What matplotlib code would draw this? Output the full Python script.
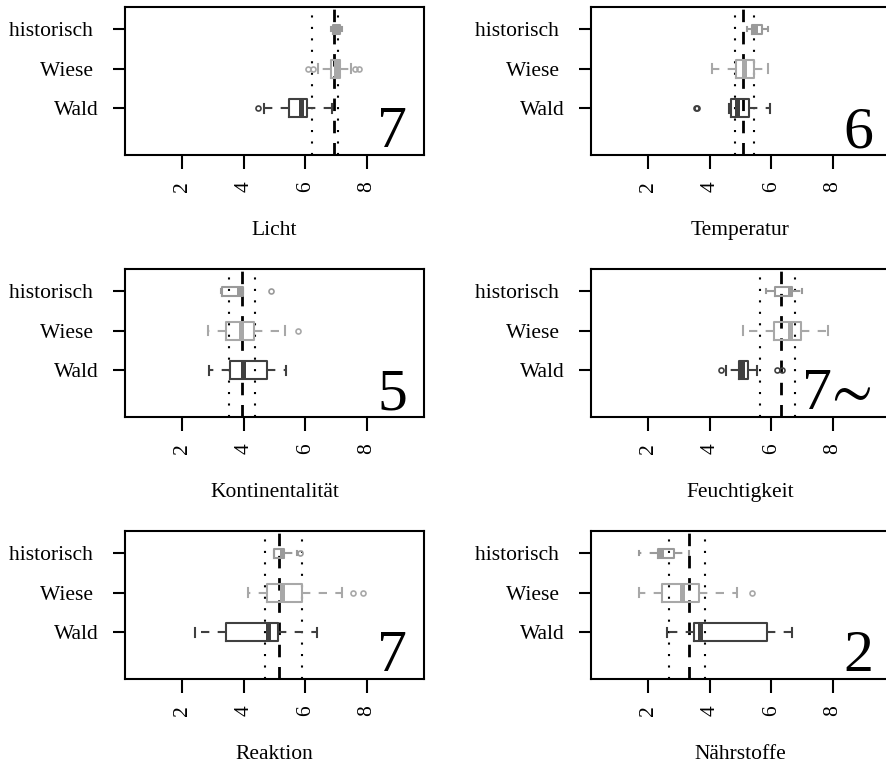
import matplotlib
matplotlib.use("Agg")
import matplotlib.pyplot as plt

plt.rcParams['font.family'] = ['Liberation Serif', 'STIXGeneral', 'DejaVu Serif']

# ---- data -----------------------------------------------------------------
panels = ["Licht", "Temperatur", "Kontinentalität", "Feuchtigkeit", "Reaktion", "Nährstoffe"]
indicator = ["7", "6", "5", "7∼", "7", "2"]
groups = ["Wald", "Wiese", "historisch"]
group_labels = ["Wald", "Wiese ", "historisch "]
xticks = [2, 4, 6, 8]

# [whisker low, Q1, median, Q3, whisker high]
wald_stats = [
    [4.65, 5.48, 5.85, 6.06, 6.86],
    [4.64, 4.69, 4.89, 5.29, 5.95],
    [2.87, 3.54, 3.98, 4.74, 5.36],
    [4.52, 4.96, 5.04, 5.24, 5.53],
    [2.40, 3.41, 4.80, 5.13, 6.39],
    [2.61, 3.49, 3.67, 5.86, 6.68],
]
wiese_stats = [
    [6.42, 6.83, 7.00, 7.13, 7.49],
    [4.06, 4.85, 5.10, 5.44, 5.88],
    [2.85, 3.41, 3.92, 4.32, 5.35],
    [5.09, 6.08, 6.60, 6.97, 7.83],
    [4.14, 4.77, 5.23, 5.90, 7.18],
    [1.69, 2.45, 3.11, 3.64, 4.88],
]
hist_stats = [
    [6.83, 6.91, 7.00, 7.13, 7.20],
    [5.20, 5.36, 5.48, 5.70, 5.91],
    [3.27, 3.30, 3.84, 3.96, 3.98],
    [5.83, 6.11, 6.62, 6.68, 7.01],
    [4.98, 4.99, 5.25, 5.30, 5.74],
    [1.69, 2.31, 2.42, 2.85, 3.31],
]
wald_fliers = [[4.47], [3.56, 3.60], [], [4.38, 6.19, 6.35], [], []]
wiese_fliers = [[6.10, 6.25, 7.62, 7.75], [], [5.77], [], [7.56, 7.87], [5.37]]
hist_fliers = [[], [], [4.87], [], [5.83], []]

# reference lines: dashed centre, dotted lower / upper
ref_mid = [6.93, 5.08, 3.94, 6.33, 5.15, 3.34]
ref_lo = [6.23, 4.82, 3.52, 5.64, 4.70, 2.66]
ref_hi = [7.07, 5.44, 4.36, 6.77, 5.88, 3.86]

# ---- style ----------------------------------------------------------------
group_colors = ["#404040", "#a8a8a8", "#9a9a9a"]
group_widths = [0.45, 0.45, 0.23]

W, H = 886, 766
fig = plt.figure(figsize=(W / 100, H / 100), dpi=100)

col_left = [125, 591]
ax_w = 299
row_top = [7, 269, 531]
ax_h = 148

all_stats = [wald_stats, wiese_stats, hist_stats]
all_fliers = [wald_fliers, wiese_fliers, hist_fliers]

for i, name in enumerate(panels):
    r, c = divmod(i, 2)
    left = col_left[c] / W
    bottom = (H - row_top[r] - ax_h) / H
    ax = fig.add_axes([left, bottom, ax_w / W, ax_h / H])

    # reference lines
    ax.axvline(ref_mid[i], color="black", lw=2.0, linestyle=(0, (4.5, 3.5)), zorder=1)
    ax.axvline(ref_lo[i], color="black", lw=1.5, linestyle=(0, (1, 4.5)), zorder=1)
    ax.axvline(ref_hi[i], color="black", lw=1.5, linestyle=(0, (1, 4.5)), zorder=1)

    for g in range(3):
        lo, q1, med, q3, hi = all_stats[g][i]
        st = dict(whislo=lo, q1=q1, med=med, q3=q3, whishi=hi,
                  fliers=all_fliers[g][i], label=groups[g])
        col = group_colors[g]
        ax.bxp([st], positions=[g + 1], widths=group_widths[g],
               capwidths=group_widths[g] * 0.5,
               orientation='horizontal', manage_ticks=False,
               boxprops=dict(color=col, lw=1.5),
               whiskerprops=dict(color=col, lw=1.5, linestyle=(0, (4, 4))),
               capprops=dict(color=col, lw=1.5),
               medianprops=dict(color=col, lw=3.6, solid_capstyle='butt'),
               flierprops=dict(marker='o', markerfacecolor='none',
                               markeredgecolor=col, markersize=3.6, mew=1.2),
               zorder=2)

    ax.set_xlim(0.14, 9.86)
    ax.set_ylim(-0.18, 3.56)
    ax.set_xticks(xticks)
    ax.set_xticklabels([str(t) for t in xticks], rotation=90, fontsize=15.5)
    ax.set_yticks([1, 2, 3])
    ax.set_yticklabels(group_labels, fontsize=15.5)
    ax.tick_params(axis='x', length=10, width=1.5, pad=9)
    ax.tick_params(axis='y', length=9, width=1.5, pad=10)
    for sp in ax.spines.values():
        sp.set_linewidth(1.5)

    ax.text(0.5, -0.51, name, transform=ax.transAxes, ha='center', va='center',
            fontsize=15.5)
    ax.text(0.943, 0.054, indicator[i], transform=ax.transAxes, ha='right',
            va='baseline', fontsize=43)

fig.savefig("out.png", dpi=100)
